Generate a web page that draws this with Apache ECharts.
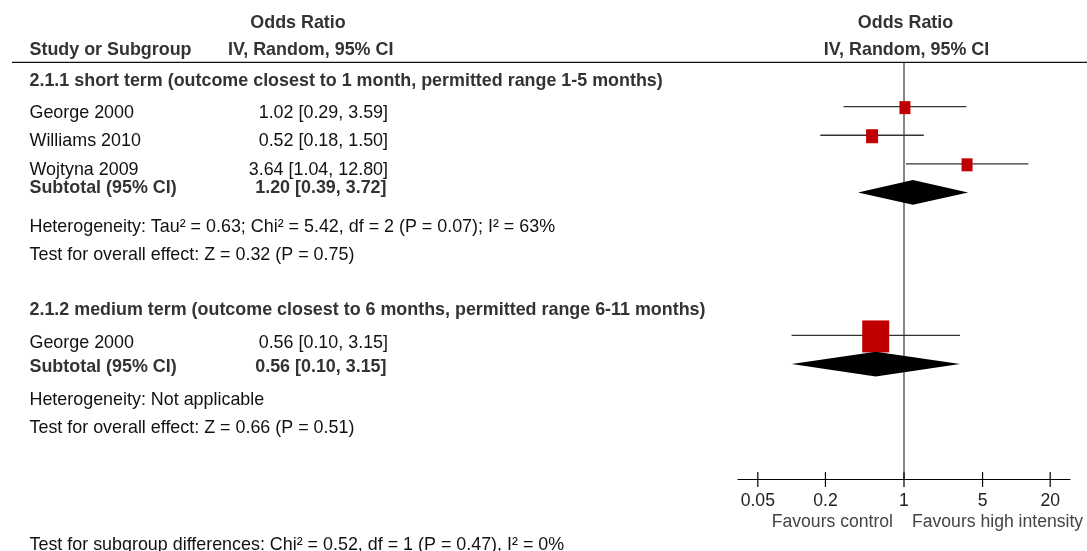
<!DOCTYPE html>
<html><head><meta charset="utf-8">
<script src="https://cdn.jsdelivr.net/npm/echarts@6/dist/echarts.min.js"></script>
<style>html,body{margin:0;padding:0;background:#fff}#c{width:1087px;height:551px}</style>
</head><body><div id="c"></div>
<script>
// ---------------- data ----------------
const groupTitles = [
  '2.1.1 short term (outcome closest to 1 month, permitted range 1-5 months)',
  '2.1.2 medium term (outcome closest to 6 months, permitted range 6-11 months)'
];
const studyNames  = ['George 2000', 'Williams 2010', 'Wojtyna 2009', 'George 2000'];
const studyGroup  = [0, 0, 0, 1];
const studyOR     = [1.02, 0.52, 3.64, 0.56];
const studyLo     = [0.29, 0.18, 1.04, 0.10];
const studyHi     = [3.59, 1.50, 12.80, 3.15];
const subtotalOR  = [1.20, 0.56];
const subtotalLo  = [0.39, 0.10];
const subtotalHi  = [3.72, 3.15];
const heterogeneity = [
  'Heterogeneity: Tau² = 0.63; Chi² = 5.42, df = 2 (P = 0.07); I² = 63%',
  'Heterogeneity: Not applicable'
];
const overallEffect = [
  'Test for overall effect: Z = 0.32 (P = 0.75)',
  'Test for overall effect: Z = 0.66 (P = 0.51)'
];
const subgroupTest = 'Test for subgroup differences: Chi² = 0.52, df = 1 (P = 0.47), I² = 0%';
const tickValues = [0.05, 0.2, 1, 5, 20];
const tickLabels = ['0.05', '0.2', '1', '5', '20'];
const favoursLabels = ['Favours control', 'Favours high intensity'];
const refValue = 1;

// ---------------- layout (rows in table-row units) ----------------
const ROW = {
  yMin: -1.55, yMax: 13.02,
  hdr1: -2.92, hdr2: -1.97,
  study: [0, 1, 2, 8],
  studyText: [0.22, 1.22, 2.21, 8.26],
  subtotal: [3, 9],
  heading: [-0.9, 7.12],
  subtotalText: [2.86, 9.11],
  het: [4.21, 10.26],
  test: [5.2, 11.24],
  footer: 15.33
};
const boxSize = [[11, 13], [12, 14], [11, 13], [27, 32]];
const FONT = 'Liberation Sans, Arial, Helvetica, sans-serif';
const FS = 17.9;
const FS_AXIS = 17.6;
const COL = { name: 29.5, est: 388, hdrOR: 298, hdrIV: 228, plot: 905.5 };

const fmt = (o, l, h) => o.toFixed(2) + ' [' + l.toFixed(2) + ', ' + h.toFixed(2) + ']';

// table text entries
const entries = [];
entries.push({ row: ROW.hdr1, x: COL.hdrOR, align: 'center', bold: true, text: 'Odds Ratio' });
entries.push({ row: ROW.hdr1, x: COL.plot, align: 'center', bold: true, text: 'Odds Ratio' });
entries.push({ row: ROW.hdr2, x: COL.name, align: 'left', bold: true, text: 'Study or Subgroup' });
entries.push({ row: ROW.hdr2, x: COL.hdrIV, align: 'left', bold: true, text: 'IV, Random, 95% CI' });
entries.push({ row: ROW.hdr2, x: COL.plot + 1, align: 'center', bold: true, text: 'IV, Random, 95% CI' });
groupTitles.forEach((t, g) => {
  entries.push({ row: ROW.heading[g], x: COL.name, align: 'left', bold: true, text: t });
  entries.push({ row: ROW.subtotalText[g], x: COL.name, align: 'left', bold: true, text: 'Subtotal (95% CI)' });
  entries.push({ row: ROW.subtotalText[g], x: COL.est - 1.5, align: 'right', bold: true,
                 text: fmt(subtotalOR[g], subtotalLo[g], subtotalHi[g]) });
  entries.push({ row: ROW.het[g], x: COL.name, align: 'left', bold: false, text: heterogeneity[g] });
  entries.push({ row: ROW.test[g], x: COL.name, align: 'left', bold: false, text: overallEffect[g] });
});
studyNames.forEach((n, i) => {
  entries.push({ row: ROW.studyText[i], x: COL.name, align: 'left', bold: false, text: n });
  entries.push({ row: ROW.studyText[i], x: COL.est, align: 'right', bold: false,
                 text: fmt(studyOR[i], studyLo[i], studyHi[i]) });
});
entries.push({ row: ROW.footer, x: COL.name, align: 'left', bold: false, text: subgroupTest });

// forest marks
const forestData = [];
studyOR.forEach((o, i) => forestData.push([o, studyLo[i], studyHi[i], ROW.study[i], 0, i]));
subtotalOR.forEach((o, g) => forestData.push([o, subtotalLo[g], subtotalHi[g], ROW.subtotal[g], 1, g]));

function renderForest(params, api) {
  const est = api.value(0), lo = api.value(1), hi = api.value(2), row = api.value(3), kind = api.value(4);
  const c = api.coord([est, row]), l = api.coord([lo, row]), h = api.coord([hi, row]);
  if (kind === 1) {
    const hh = 12.4;
    return { type: 'polygon',
      shape: { points: [[l[0], c[1]], [c[0], c[1] - hh], [h[0], c[1]], [c[0], c[1] + hh]] },
      style: { fill: '#000' } };
  }
  const sz = boxSize[api.value(5)];
  return { type: 'group', children: [
    { type: 'line', shape: { x1: l[0], y1: c[1], x2: h[0], y2: c[1] }, style: { stroke: '#333', lineWidth: 1.3 } },
    { type: 'rect', shape: { x: c[0] - sz[0] / 2, y: c[1] - sz[1] / 2 + 1, width: sz[0], height: sz[1] },
      style: { fill: '#c00000' } }
  ] };
}

function renderRef(params, api) {
  const a = api.coord([api.value(0), ROW.yMin]);
  const b = api.coord([api.value(0), ROW.yMax]);
  return { type: 'line', shape: { x1: a[0], y1: a[1], x2: b[0], y2: b[1] }, style: { stroke: '#444', lineWidth: 1.3 } };
}

function renderTick(params, api) {
  const p = api.coord([api.value(0), ROW.yMax]);
  return { type: 'group', children: [
    { type: 'line', shape: { x1: p[0], y1: p[1] - 7, x2: p[0], y2: p[1] + 8 }, style: { stroke: '#000', lineWidth: 1.2 } },
    { type: 'text', x: p[0], y: p[1] + 22, style: { text: tickLabels[params.dataIndex], fill: '#222',
      fontSize: FS_AXIS, fontFamily: FONT, align: 'center', verticalAlign: 'middle' } }
  ] };
}

function renderFavours(params, api) {
  const p = api.coord([api.value(0), ROW.yMax]);
  return { type: 'group', children: [
    { type: 'text', x: p[0] - 11, y: p[1] + 43, style: { text: favoursLabels[0], fill: '#444',
      fontSize: FS_AXIS, fontFamily: FONT, align: 'right', verticalAlign: 'middle' } },
    { type: 'text', x: p[0] + 8, y: p[1] + 43, style: { text: favoursLabels[1], fill: '#444',
      fontSize: FS_AXIS, fontFamily: FONT, align: 'left', verticalAlign: 'middle' } }
  ] };
}

function renderTable(params, api) {
  const e = entries[params.dataIndex];
  const p = api.coord([refValue, api.value(1)]);
  return { type: 'text', x: e.x, y: p[1], style: {
    text: e.text, fill: e.bold ? '#333' : '#111', fontSize: FS, fontFamily: FONT,
    fontWeight: e.bold ? 'bold' : 'normal', align: e.align, verticalAlign: 'middle' } };
}

const chart = echarts.init(document.getElementById('c'), null, { renderer: 'canvas' });
chart.setOption({
  animation: false,
  backgroundColor: '#fff',
  grid: { left: 738, top: 62.3, width: 332, height: 416.7, containLabel: false, outerBoundsMode: 'none' },
  xAxis: { type: 'log', logBase: 10, min: 1 / 30, max: 30, position: 'bottom',
    axisLine: { show: true, onZero: false, lineStyle: { color: '#000', width: 1.2 } },
    axisTick: { show: false }, axisLabel: { show: false }, splitLine: { show: false } },
  yAxis: { type: 'value', inverse: true, min: ROW.yMin, max: ROW.yMax, show: false, splitLine: { show: false } },
  graphic: [{ type: 'line', shape: { x1: 12, y1: 62.3, x2: 1087, y2: 62.3 }, style: { stroke: '#111', lineWidth: 1.3 } }],
  series: [
    { type: 'custom', name: 'ref', renderItem: renderRef, data: [[refValue, 0]], encode: { x: 0, y: 1 }, clip: false, z: 1, silent: true },
    { type: 'custom', name: 'forest', renderItem: renderForest, data: forestData, encode: { x: [0, 1, 2], y: 3 }, clip: false, z: 3, silent: true },
    { type: 'custom', name: 'ticks', renderItem: renderTick, data: tickValues.map(v => [v, ROW.yMax]), encode: { x: 0, y: 1 }, clip: false, z: 2, silent: true },
    { type: 'custom', name: 'favours', renderItem: renderFavours, data: [[refValue, ROW.yMax]], encode: { x: 0, y: 1 }, clip: false, z: 2, silent: true },
    { type: 'custom', name: 'table', renderItem: renderTable, data: entries.map(e => [refValue, e.row]), encode: { x: 0, y: 1 }, clip: false, z: 2, silent: true }
  ]
});
</script></body></html>
